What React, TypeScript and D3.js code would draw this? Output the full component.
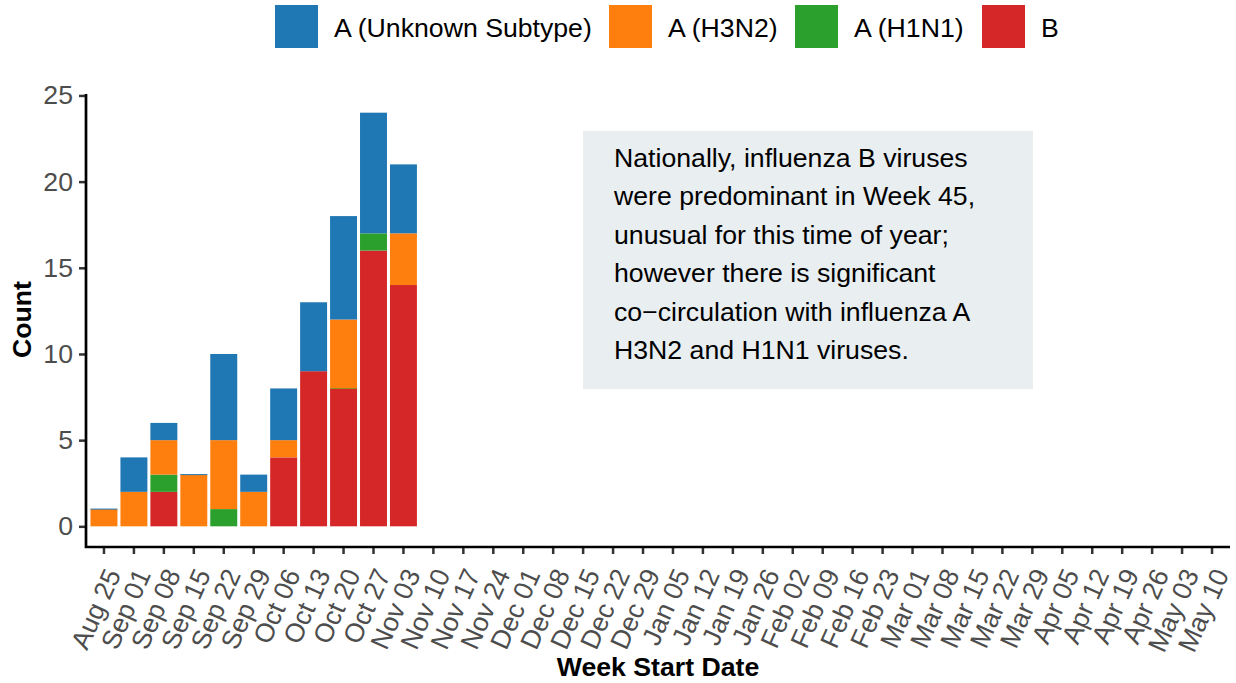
import React, { useEffect, useRef } from "react";
import * as d3 from "d3";

const weeks = [
  "Aug 25", "Sep 01", "Sep 08", "Sep 15", "Sep 22", "Sep 29",
  "Oct 06", "Oct 13", "Oct 20", "Oct 27", "Nov 03", "Nov 10",
  "Nov 17", "Nov 24", "Dec 01", "Dec 08", "Dec 15", "Dec 22",
  "Dec 29", "Jan 05", "Jan 12", "Jan 19", "Jan 26", "Feb 02",
  "Feb 09", "Feb 16", "Feb 23", "Mar 01", "Mar 08", "Mar 15",
  "Mar 22", "Mar 29", "Apr 05", "Apr 12", "Apr 19", "Apr 26",
  "May 03", "May 10",
];

// counts per week (null = no record for that week)
const fluB = [null, null, 2, null, null, null, 4, 9, 8, 16, 14];
const fluH1N1 = [null, null, 1, null, 1, null, null, null, 0, 1, null];
const fluH3N2 = [1, 2, 2, 3, 4, 2, 1, null, 4, null, 3];
const fluUnknown = [0, 2, 1, 0, 5, 1, 3, 4, 6, 7, 4];

const seriesNames = ["A (Unknown Subtype)", "A (H3N2)", "A (H1N1)", "B"];
const seriesColors = ["#1f77b4", "#ff7f0e", "#2ca02c", "#d62728"];
const yTicks = [0, 5, 10, 15, 20, 25];

const noteLines = [
  "Nationally, influenza B viruses",
  "were predominant in Week 45,",
  "unusual for this time of year;",
  "however there is significant",
  "co\u2212circulation with influenza A",
  "H3N2 and H1N1 viruses.",
];

const FONT = "'Liberation Sans', Arial, Helvetica, sans-serif";
const FS = 26.67; // 20pt

export default function App() {
  const ref = useRef<SVGSVGElement | null>(null);

  useEffect(() => {
    const node = ref.current;
    if (!node) return;
    const svg = d3.select(node);
    svg.selectAll("*").remove();

    const left = 86, right = 1230, top = 92, bottom = 547;

    const x = d3
      .scaleBand<string>()
      .domain(weeks)
      .range([left, right])
      .paddingInner(0.1)
      .paddingOuter(0.15);
    const y = d3.scaleLinear().domain([-1.2, 25.2]).range([bottom, top]);

    // stacking order from the bottom: B, H1N1, H3N2, Unknown
    const stackOrder = [
      { values: fluB, color: seriesColors[3] },
      { values: fluH1N1, color: seriesColors[2] },
      { values: fluH3N2, color: seriesColors[1] },
      { values: fluUnknown, color: seriesColors[0] },
    ];

    const bars = svg.append("g");
    fluUnknown.forEach((_, i) => {
      let base = 0;
      stackOrder.forEach(s => {
        const v = s.values[i];
        if (v === null || v === undefined) return;
        const y0 = y(base);
        const y1 = y(base + v);
        const h = Math.max(y0 - y1, 1);
        bars
          .append("rect")
          .attr("x", x(weeks[i]) as number)
          .attr("width", x.bandwidth())
          .attr("y", v === 0 ? y0 - 0.5 : y1)
          .attr("height", h)
          .attr("fill", s.color);
        base += v;
      });
    });

    // annotation box
    const note = svg.append("g");
    note
      .append("rect")
      .attr("x", 583)
      .attr("y", 131)
      .attr("width", 450)
      .attr("height", 258)
      .attr("fill", "#e9eef0");
    note
      .selectAll("text")
      .data(noteLines)
      .enter()
      .append("text")
      .attr("x", 614)
      .attr("y", (d, i) => 167 + i * 38.4)
      .attr("font-size", FS)
      .attr("fill", "#000")
      .text(d => d);

    // y axis
    const yAxis = svg.append("g").attr("transform", `translate(${left},0)`);
    yAxis
      .call(d3.axisLeft(y).tickValues(yTicks).tickSize(7).tickPadding(6))
      .call(g => g.select(".domain").remove());
    yAxis.selectAll(".tick line").attr("stroke", "#333").attr("stroke-width", 2.5);
    yAxis
      .selectAll(".tick text")
      .attr("font-size", FS)
      .attr("font-family", FONT)
      .attr("fill", "#4d4d4d");

    // x axis
    const xAxis = svg.append("g").attr("transform", `translate(0,${bottom})`);
    xAxis
      .call(d3.axisBottom(x).tickSize(7).tickPadding(0))
      .call(g => g.select(".domain").remove());
    xAxis.selectAll(".tick line").attr("stroke", "#333").attr("stroke-width", 2.5);
    xAxis
      .selectAll(".tick text")
      .attr("font-size", FS)
      .attr("font-family", FONT)
      .attr("fill", "#4d4d4d")
      .attr("text-anchor", "end")
      .attr("y", 0)
      .attr("transform", "translate(-3,18) rotate(-66)")
      .attr("dy", "0.84em");

    // axis lines
    svg
      .append("path")
      .attr("d", `M${left},${top + 2}V${bottom}H${right}`)
      .attr("fill", "none")
      .attr("stroke", "#000")
      .attr("stroke-width", 2.7);

    // axis titles
    svg
      .append("text")
      .attr("x", (left + right) / 2)
      .attr("y", 676)
      .attr("text-anchor", "middle")
      .attr("font-size", FS)
      .attr("font-weight", "bold")
      .text("Week Start Date");
    svg
      .append("text")
      .attr("transform", `translate(31,${(top + bottom) / 2}) rotate(-90)`)
      .attr("text-anchor", "middle")
      .attr("font-size", FS)
      .attr("font-weight", "bold")
      .text("Count");

    // legend
    const legendX = [275, 609, 795, 982];
    const legend = svg.append("g");
    seriesNames.forEach((name, i) => {
      legend
        .append("rect")
        .attr("x", legendX[i])
        .attr("y", 5)
        .attr("width", 43)
        .attr("height", 43)
        .attr("fill", seriesColors[i]);
      legend
        .append("text")
        .attr("x", legendX[i] + 59)
        .attr("y", 37)
        .attr("font-size", FS)
        .attr("fill", "#000")
        .text(name);
    });
  }, []);

  return (
    <svg
      ref={ref}
      width={1236}
      height={683}
      style={{ position: "absolute", left: 0, top: 0, fontFamily: FONT, background: "#fff" }}
    />
  );
}
